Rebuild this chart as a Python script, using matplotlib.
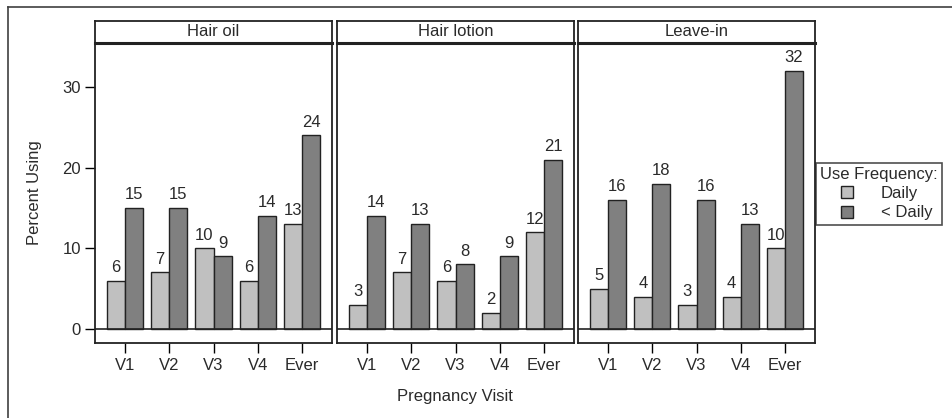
import numpy as np
import matplotlib.pyplot as plt
from matplotlib.lines import Line2D

plt.rcParams['font.family'] = ['Liberation Sans', 'DejaVu Sans']

visits = ['V1', 'V2', 'V3', 'V4', 'Ever']
products = ['Hair oil', 'Hair lotion', 'Leave-in']
daily = {
    'Hair oil': [6, 7, 10, 6, 13],
    'Hair lotion': [3, 7, 6, 2, 12],
    'Leave-in': [5, 4, 3, 4, 10],
}
less_daily = {
    'Hair oil': [15, 15, 9, 14, 24],
    'Hair lotion': [14, 13, 8, 9, 21],
    'Leave-in': [16, 18, 16, 13, 32],
}

W, H = 952, 418
fig = plt.figure(figsize=(W / 100, H / 100), dpi=100)

# outer frame: only top and left edges show in the crop
fc = '#404040'
fig.add_artist(Line2D([8 / W, 1], [1 - 7 / H, 1 - 7 / H], transform=fig.transFigure, color=fc, lw=1.2))
fig.add_artist(Line2D([8 / W, 8 / W], [0, 1 - 7 / H], transform=fig.transFigure, color=fc, lw=1.2))

tc = '#2a2a2a'
fs = 12
c_light = '#c0c0c0'
c_dark = '#808080'
lefts = [95, 337, 578]
pw = 237
top, head_bot, bot = 21, 43, 343
x = np.arange(len(visits))
bw = 0.41

for i, prod in enumerate(products):
    L = lefts[i]
    ax = fig.add_axes([L / W, 1 - bot / H, pw / W, (bot - head_bot) / H])
    ax.bar(x - bw / 2, daily[prod], bw, color=c_light, edgecolor='#222222', lw=1)
    ax.bar(x + bw / 2, less_daily[prod], bw, color=c_dark, edgecolor='#222222', lw=1)
    for xi, v in zip(x, daily[prod]):
        ax.text(xi - bw / 2, v + 0.7, str(v), ha='center', va='bottom', fontsize=fs, color=tc)
    for xi, v in zip(x, less_daily[prod]):
        ax.text(xi + bw / 2, v + 0.7, str(v), ha='center', va='bottom', fontsize=fs, color=tc)
    ax.axhline(0, color='#222222', lw=1.2)
    ax.set_xlim(-0.68, 4.68)
    ax.set_ylim(-1.74, 35.45)
    ax.set_xticks(x)
    ax.set_xticklabels(visits, fontsize=fs, color=tc)
    ax.tick_params(axis='x', length=7, width=1, pad=4)
    if i == 0:
        ax.set_yticks([0, 10, 20, 30])
        ax.tick_params(axis='y', length=7, width=1, labelsize=fs, labelcolor=tc, pad=3)
        ax.set_ylabel('Percent Using', fontsize=fs, color=tc)
        ax.yaxis.set_label_coords(-0.225, 0.5)
    else:
        ax.set_yticks([])
    for s in ax.spines.values():
        s.set_linewidth(1.3)
        s.set_color('#222222')

    hx = fig.add_axes([L / W, 1 - head_bot / H, pw / W, (head_bot - top) / H])
    hx.set_xticks([])
    hx.set_yticks([])
    for s in hx.spines.values():
        s.set_linewidth(1.3)
        s.set_color('#222222')
    hx.spines['bottom'].set_linewidth(2.2)
    hx.text(0.5, 0.5, prod, ha='center', va='center', fontsize=fs, color=tc,
            transform=hx.transAxes)

fig.text(455 / W, 1 - 396 / H, 'Pregnancy Visit', ha='center', va='center', fontsize=fs, color=tc)

handles = [Line2D([], [], ls='', marker='s', markersize=8, markerfacecolor=c_light,
                  markeredgecolor='#222222', markeredgewidth=1),
           Line2D([], [], ls='', marker='s', markersize=8, markerfacecolor=c_dark,
                  markeredgecolor='#222222', markeredgewidth=1)]
leg = fig.legend(handles, ['Daily', '< Daily'], title='Use Frequency:',
                 loc='upper left', bbox_to_anchor=(816 / W, 1 - 163 / H),
                 fontsize=fs, title_fontsize=fs, frameon=True, fancybox=False,
                 handlelength=2.5, handletextpad=0.8,
                 borderpad=0.25, labelspacing=0.25, borderaxespad=0)
leg.get_frame().set_edgecolor('#222222')
leg.get_frame().set_linewidth(1.2)
leg.get_title().set_color(tc)
for t in leg.get_texts():
    t.set_color(tc)

fig.savefig('out.png', dpi=100)
